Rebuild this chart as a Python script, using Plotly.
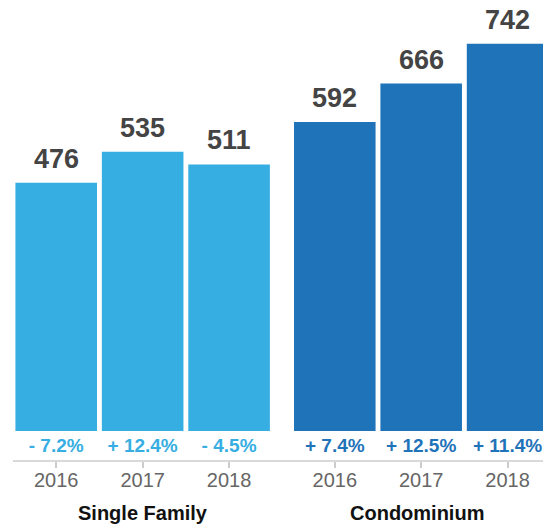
import plotly.graph_objects as go

years = ["2016", "2017", "2018"]
single_family = [476, 535, 511]
condominium = [592, 666, 742]
sf_change = ["- 7.2%", "+ 12.4%", "- 4.5%"]
condo_change = ["+ 7.4%", "+ 12.5%", "+ 11.4%"]
group_names = ["Single Family", "Condominium"]

LIGHT = "#36AEE2"
DARK = "#1F73B8"
FONT = "Liberation Sans, Arial, Helvetica, sans-serif"
W, H = 543, 527

# paper-space layout of the two groups
dom1 = [13.0 / W, 272.3 / W]
dom2 = [291.6 / W, 1.0]
PCT_Y = -31  # row of change labels, just below the bar bases (data units)

fig = go.Figure()
annotations = []

for xa, vals, color in (("x", single_family, LIGHT), ("x2", condominium, DARK)):
    fig.add_trace(go.Bar(
        x=years, y=vals, xaxis=xa, yaxis="y",
        marker=dict(color=color, line=dict(width=0)),
        hoverinfo="skip",
    ))
    # value labels above each bar (category axes take the serial index)
    for i, v in enumerate(vals):
        annotations.append(dict(
            text="<b>%d</b>" % v, x=i, y=v, xref=xa, yref="y",
            xanchor="center", yanchor="bottom", yshift=7, showarrow=False,
            font=dict(family=FONT, size=27, color="#444444"),
        ))

for xa, labels, color in (("x", sf_change, LIGHT), ("x2", condo_change, DARK)):
    fig.add_trace(go.Scatter(
        x=years, y=[PCT_Y] * len(years), xaxis=xa, yaxis="y",
        mode="text", text=["<b>%s</b>" % t for t in labels],
        textfont=dict(family=FONT, size=19, color=color),
        textposition="middle center", cliponaxis=False, hoverinfo="skip",
    ))

axis_common = dict(
    type="category", showgrid=False, zeroline=False, showline=False,
    ticks="outside", ticklen=6, tickwidth=1.5, tickcolor="#cccccc",
    ticklabelstandoff=-5,
    tickfont=dict(family=FONT, size=20, color="#666666"),
    fixedrange=True,
)

for name, d in zip(group_names, (dom1, dom2)):
    annotations.append(dict(
        text="<b>%s</b>" % name, xref="paper", yref="paper",
        x=(d[0] + d[1]) / 2, y=0, yanchor="middle", xanchor="center",
        yshift=-52, showarrow=False,
        font=dict(family=FONT, size=20, color="#111111"),
    ))

fig.update_layout(
    width=W, height=H,
    margin=dict(l=0, r=0, t=0, b=66),
    paper_bgcolor="white", plot_bgcolor="white",
    showlegend=False, bargap=0.056,
    xaxis=dict(domain=dom1, range=[-0.5, 2.5], anchor="y", **axis_common),
    xaxis2=dict(domain=dom2, range=[-0.5, 2.41], anchor="y", **axis_common),
    yaxis=dict(range=[-57.4, 826], showticklabels=False, showgrid=False,
               zeroline=False, showline=False, ticks="", fixedrange=True),
    shapes=[dict(type="line", xref="paper", yref="paper",
                 x0=13.0 / W, x1=1.0, y0=0, y1=0,
                 line=dict(color="#cccccc", width=1.5))],
    annotations=annotations,
)

fig.write_html("out.html")
